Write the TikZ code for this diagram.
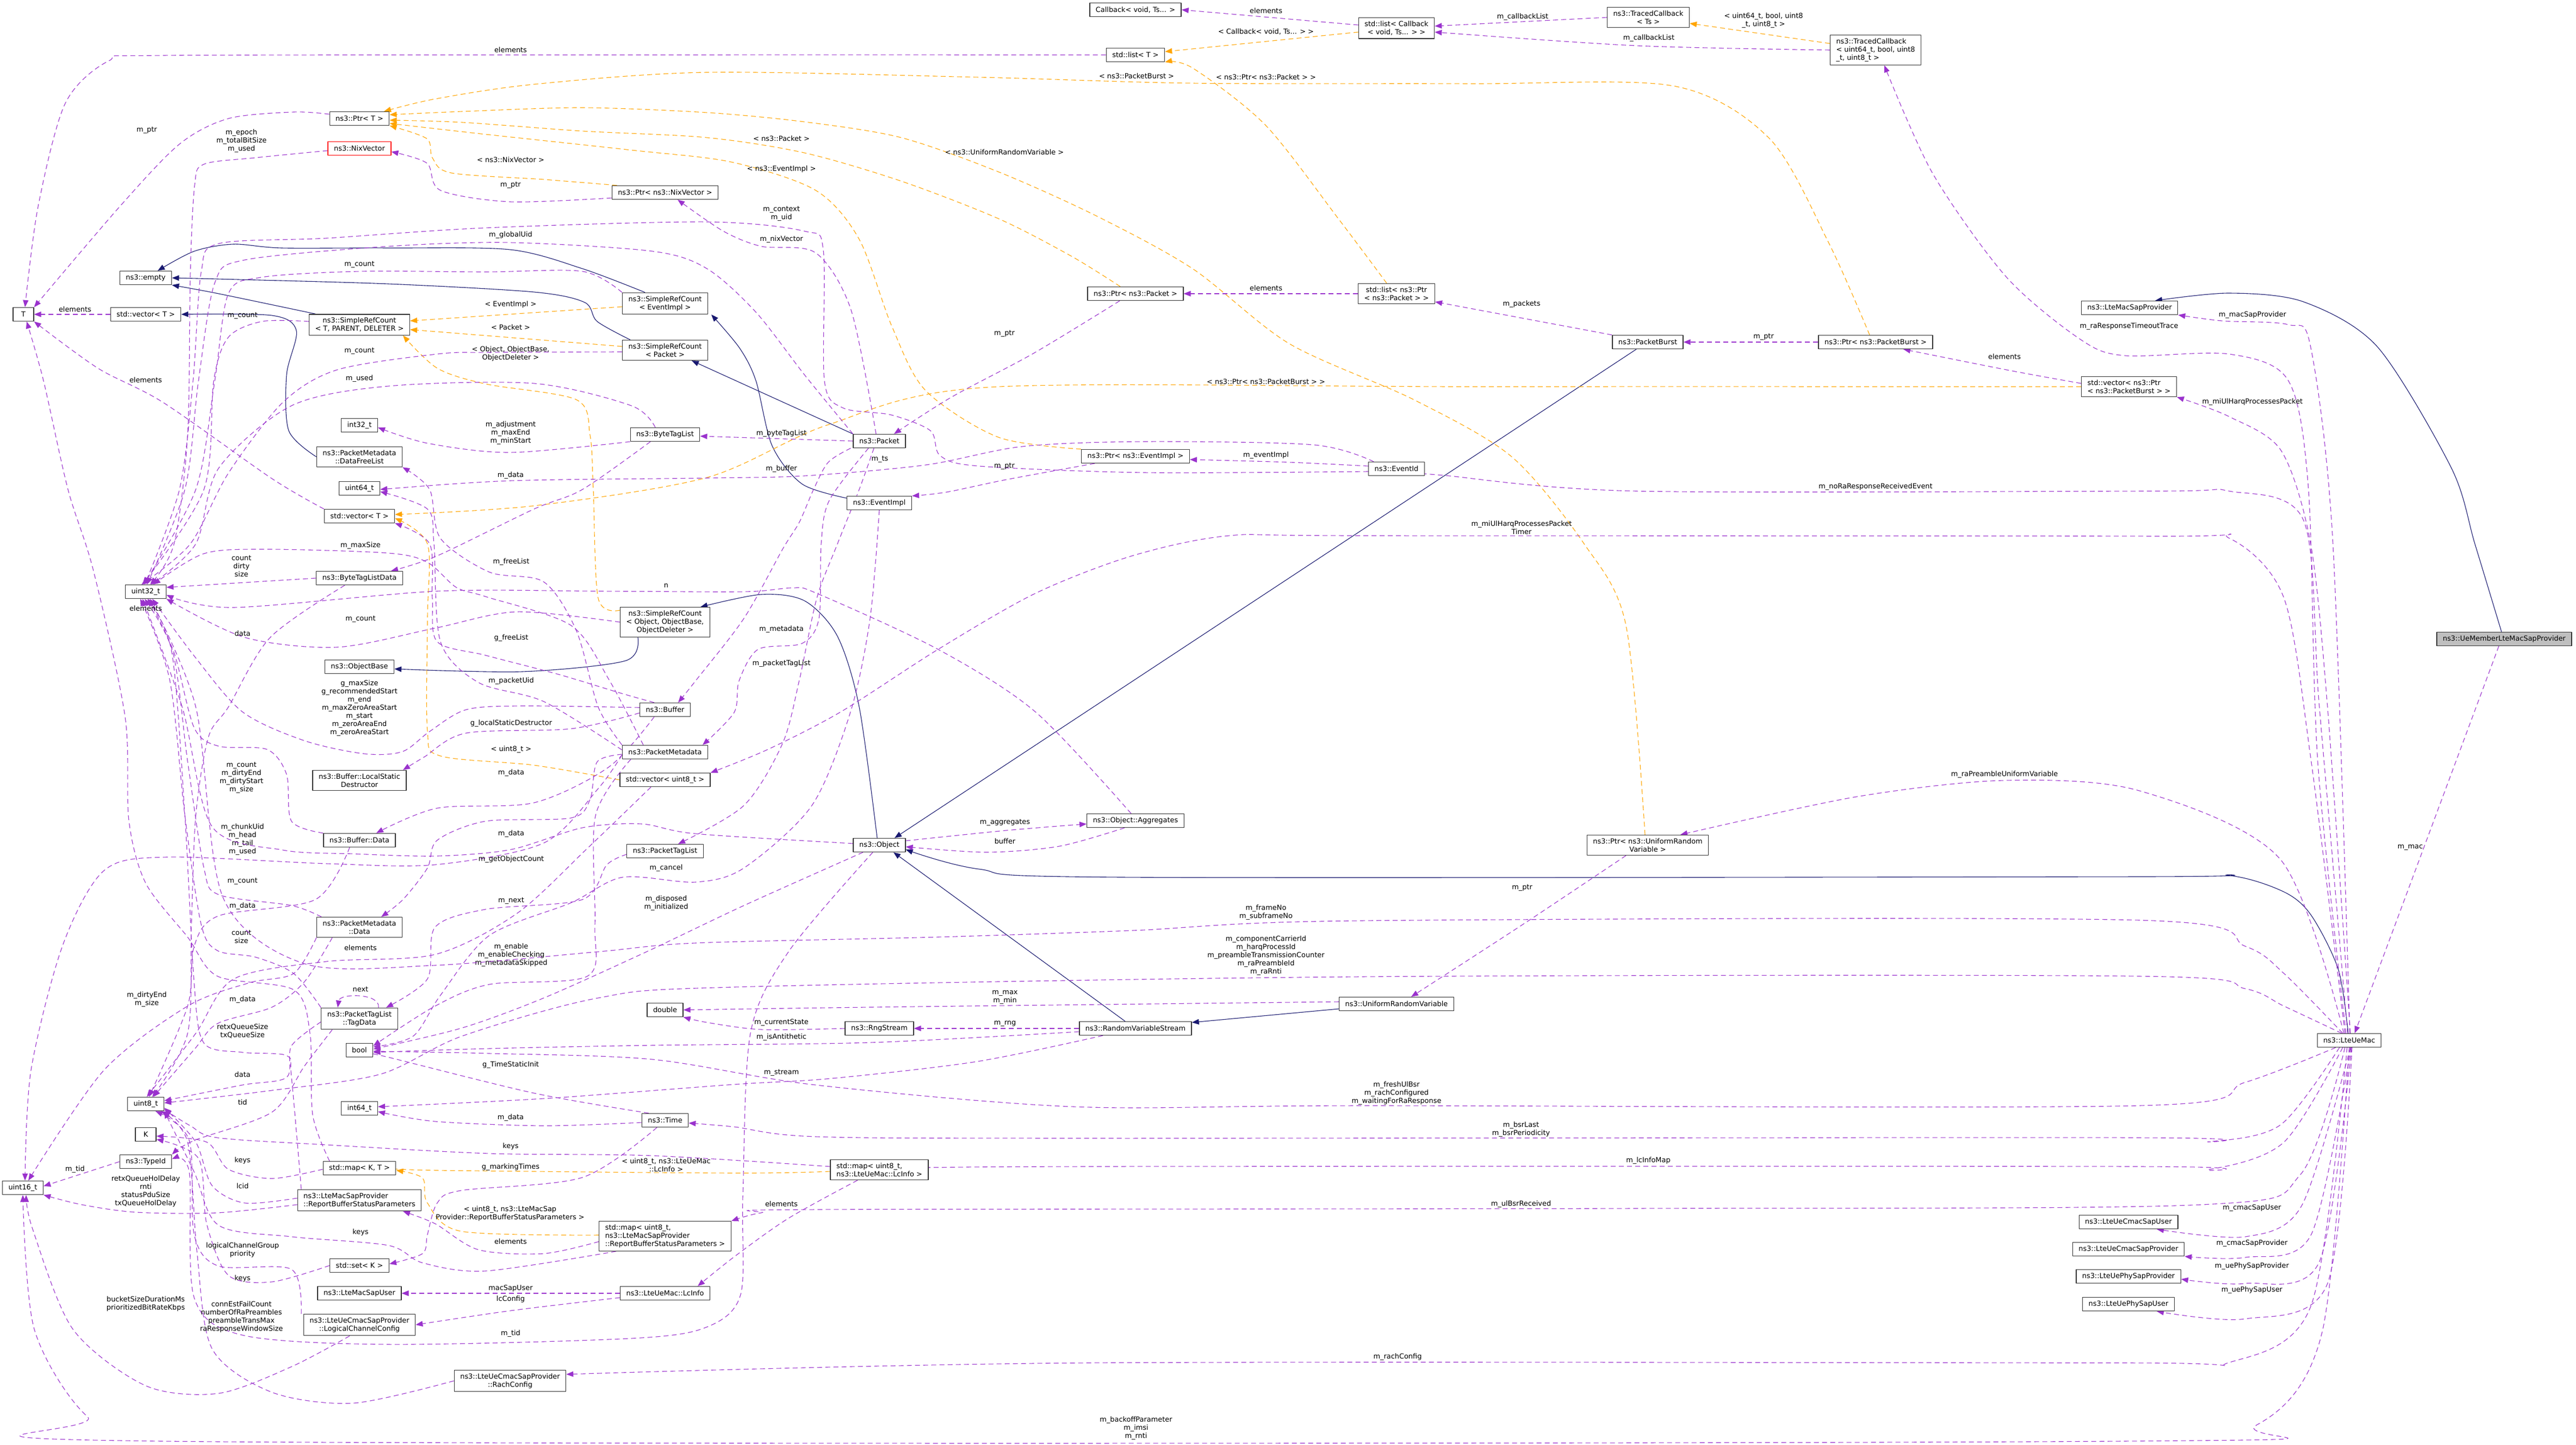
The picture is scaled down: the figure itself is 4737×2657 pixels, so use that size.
\documentclass[tikz,border=0pt]{standalone}
\usepackage{fontspec}
\setmainfont{DejaVu Sans}
\usetikzlibrary{arrows.meta}
\pgfdeclarelayer{back}
\pgfdeclarelayer{edges}
\pgfsetlayers{back,edges,main}
\definecolor{dxpurple}{HTML}{9A32CD}
\definecolor{dxorange}{HTML}{FFA500}
\definecolor{dxnavy}{HTML}{191970}
\definecolor{dxgray}{HTML}{BFBFBF}
\newcommand{\dxfont}{\fontsize{12.9}{15}\selectfont}
\begin{document}
\begin{tikzpicture}[x=1pt,y=-1pt,>={Triangle[length=13pt,width=10pt]},line join=round,
  cls/.style={draw=black!80,line width=1.3pt,fill=white,font=\dxfont,align=center,inner xsep=11pt,inner ysep=6pt,minimum height=25pt,minimum width=38pt},
  clsl/.style={cls,align=left},
  lbl/.style={font=\dxfont,align=center,inner sep=0pt},
  use/.style={->,draw=dxpurple,line width=1.1pt,dash pattern=on 9pt off 6pt},
  tmpl/.style={->,draw=dxorange,line width=1.1pt,dash pattern=on 9pt off 6pt},
  inh/.style={->,draw=dxnavy,line width=1.1pt}]
\begin{pgfonlayer}{back}
\fill[white] (0,0) rectangle (4737,2657);
\end{pgfonlayer}
\useasboundingbox (0,0) rectangle (4737,2657);
% classes
\node[cls] (cbvoid) at (2088,18) {Callback< void, Ts... >};
\node[cls] (listcb) at (2568,52) {std::list< Callback\\< void, Ts... > >};
\node[cls] (tracedts) at (3031,32) {ns3::TracedCallback\\< Ts >};
\node[clsl] (traceduint) at (3449,92) {ns3::TracedCallback\\< uint64\_t, bool, uint8\\\_t, uint8\_t >};
\node[cls] (listT) at (2088,101) {std::list< T >};
\node[cls] (ptrT) at (661,218) {ns3::Ptr< T >};
\node[cls,draw=red] (nixvec) at (661,273) {ns3::NixVector};
\node[cls] (ptrnix) at (1223,354) {ns3::Ptr< ns3::NixVector >};
\node[cls] (empty) at (268,511) {ns3::empty};
\node[cls] (T) at (43,578) {T};
\node[cls] (vecT) at (268,578) {std::vector< T >};
\node[cls] (srcT) at (661,597) {ns3::SimpleRefCount\\< T, PARENT, DELETER >};
\node[cls] (srcev) at (1223,558) {ns3::SimpleRefCount\\< EventImpl >};
\node[cls] (srcpkt) at (1223,644) {ns3::SimpleRefCount\\< Packet >};
\node[cls] (ptrpkt) at (2088,540) {ns3::Ptr< ns3::Packet >};
\node[cls] (listptrpkt) at (2568,540) {std::list< ns3::Ptr\\< ns3::Packet > >};
\node[cls] (pktburst) at (3030,629) {ns3::PacketBurst};
\node[cls] (ptrpb) at (3449,629) {ns3::Ptr< ns3::PacketBurst >};
\node[cls] (ltemacsapprov) at (3916,566) {ns3::LteMacSapProvider};
\node[clsl] (vecptrpb) at (3915,711) {std::vector< ns3::Ptr\\< ns3::PacketBurst > >};
\node[cls] (int32) at (661,782) {int32\_t};
\node[cls] (bytetaglist) at (1223,799) {ns3::ByteTagList};
\node[cls] (packet) at (1617,811) {ns3::Packet};
\node[cls] (ptrev) at (2088,839) {ns3::Ptr< ns3::EventImpl >};
\node[cls] (eventid) at (2568,862) {ns3::EventId};
\node[cls] (freelist) at (661,840) {ns3::PacketMetadata\\::DataFreeList};
\node[cls] (uint64) at (661,898) {uint64\_t};
\node[cls] (eventimpl) at (1617,925) {ns3::EventImpl};
\node[cls] (vecT2) at (661,949) {std::vector< T >};
\node[cls] (btldata) at (661,1063) {ns3::ByteTagListData};
\node[cls] (uint32) at (268,1088) {uint32\_t};
\node[cls] (srcobj) at (1223,1144) {ns3::SimpleRefCount\\< Object, ObjectBase,\\ObjectDeleter >};
\node[cls] (objbase) at (661,1226) {ns3::ObjectBase};
\node[cls] (buffer) at (1223,1305) {ns3::Buffer};
\node[cls] (pktmeta) at (1223,1383) {ns3::PacketMetadata};
\node[cls] (lsd) at (661,1435) {ns3::Buffer::LocalStatic\\Destructor};
\node[cls] (vecu8) at (1223,1434) {std::vector< uint8\_t >};
\node[cls] (aggregates) at (2088,1509) {ns3::Object::Aggregates};
\node[cls] (object) at (1617,1554) {ns3::Object};
\node[cls] (bufdata) at (661,1545) {ns3::Buffer::Data};
\node[cls] (pkttaglist) at (1223,1565) {ns3::PacketTagList};
\node[cls] (ptrurv) at (3030,1554) {ns3::Ptr< ns3::UniformRandom\\Variable >};
\node[cls] (pmdata) at (661,1705) {ns3::PacketMetadata\\::Data};
\node[cls,fill=dxgray] (uemember) at (4605,1175) {ns3::UeMemberLteMacSapProvider};
\node[cls] (urv) at (2568,1846) {ns3::UniformRandomVariable};
\node[cls] (double) at (1223,1857) {double};
\node[cls] (rngstream) at (1617,1891) {ns3::RngStream};
\node[cls] (rvs) at (2088,1891) {ns3::RandomVariableStream};
\node[cls] (tagdata) at (661,1873) {ns3::PacketTagList\\::TagData};
\node[cls] (bool) at (661,1931) {bool};
\node[cls] (ltemac) at (4320,1913) {ns3::LteUeMac};
\node[cls] (uint8) at (268,2030) {uint8\_t};
\node[cls] (int64) at (661,2038) {int64\_t};
\node[cls] (time) at (1223,2060) {ns3::Time};
\node[cls] (K) at (268,2086) {K};
\node[cls] (typeid) at (268,2136) {ns3::TypeId};
\node[cls] (mapKT) at (661,2148) {std::map< K, T >};
\node[clsl] (maplc) at (1617,2151) {std::map< uint8\_t,\\ ns3::LteUeMac::LcInfo >};
\node[cls] (uint16) at (42,2184) {uint16\_t};
\node[clsl] (rbsp) at (661,2207) {ns3::LteMacSapProvider\\::ReportBufferStatusParameters};
\node[clsl] (maprbsp) at (1223,2273) {std::map< uint8\_t,\\ ns3::LteMacSapProvider\\::ReportBufferStatusParameters >};
\node[cls] (setK) at (661,2327) {std::set< K >};
\node[cls] (macsapuser) at (661,2378) {ns3::LteMacSapUser};
\node[cls] (lcinfo) at (1223,2378) {ns3::LteUeMac::LcInfo};
\node[cls] (lcconfig) at (661,2436) {ns3::LteUeCmacSapProvider\\::LogicalChannelConfig};
\node[cls] (rachconfig) at (938,2539) {ns3::LteUeCmacSapProvider\\::RachConfig};
\node[cls] (cmacuser) at (3914,2247) {ns3::LteUeCmacSapUser};
\node[cls] (cmacprov) at (3914,2297) {ns3::LteUeCmacSapProvider};
\node[cls] (phyprov) at (3914,2347) {ns3::LteUePhySapProvider};
\node[cls] (phyuser) at (3914,2398) {ns3::LteUePhySapUser};
\begin{pgfonlayer}{edges}
% inheritance
\draw[inh] plot[smooth] coordinates {([xshift=-37pt]srcev.north) (1071,494) (938,459) (714,456) (518,456) (429,449) (357,462) ([xshift=22pt]empty.north)};
\draw[inh] plot[smooth] coordinates {([xshift=-64pt]srcpkt.north) (1098,591) (1075,556) (982,537) (714,522) (400,513) (empty.east)};
\draw[inh] plot[smooth] coordinates {([xshift=-81pt]srcT.north) (402,540) (empty.south east)};
\draw[inh] plot[smooth] coordinates {(freelist.west) (531,792) (527,689) (545,608) (500,580) (vecT.east)};
\draw[inh] (packet.north west) -- ([xshift=49pt]srcpkt.south);
\draw[inh] plot[smooth] coordinates {([yshift=9pt]eventimpl.west) (1475,890) (1420,820) (1390,700) (1360,640) ([xshift=85pt]srcev.south)};
\draw[inh] plot[smooth] coordinates {([xshift=-4pt]object.north) (1580,1300) (1540,1170) (1480,1105) (1400,1093) ([xshift=65pt]srcobj.north)};
\draw[inh] plot[smooth] coordinates {([xshift=-50pt]srcobj.south) (1150,1215) (960,1235) ([yshift=-4pt]objbase.east)};
\draw[inh] ([xshift=-21pt]pktburst.south) -- ([xshift=28pt]object.north);
\draw[inh] plot[smooth] coordinates {([xshift=-2pt]ltemac.north) (4300,1783) (4250,1683) (4200,1640) (4100,1610) (3934,1612) (2064,1613) (1800,1598) ([yshift=-8pt]object.east)};
\draw[inh] ([xshift=-19pt]rvs.north) -- ([xshift=26pt]object.south);
\draw[inh] ([yshift=-9pt]urv.west) -- ([yshift=11pt]rvs.east);
\draw[inh] plot[smooth] coordinates {([xshift=-5pt]uemember.north) (4551,1000) (4508,861) (4372,638) (4236,555) (4099,539) ([xshift=47pt]ltemacsapprov.north)};
% template instances
\draw[tmpl] ([yshift=-7pt]listcb.west) -- ([yshift=6pt]listT.east) node[lbl] at (2328,58) {< Callback< void, Ts... > >};
\draw[tmpl] ([yshift=12pt]traceduint.west) -- ([yshift=-11pt]tracedts.east) node[lbl] at (3243,38) {< uint64\_t, bool, uint8\\\_t, uint8\_t >};
\draw[tmpl] plot[smooth] coordinates {([xshift=-11pt]ptrpb.north) (3363,447) (3254,255) (3077,158) (2700,154) (2193,153) (1800,142) (1300,133) (982,155) (800,182) ([xshift=45pt]ptrT.north)} node[lbl] at (2090,140) {< ns3::PacketBurst >};
\draw[tmpl] plot[smooth] coordinates {([xshift=-18pt]listptrpkt.north) (2461,402) (2327,230) (2193,125) (listT.south east)} node[lbl] at (2328,142) {< ns3::Ptr< ns3::Packet > >};
\draw[tmpl] plot[smooth] coordinates {([xshift=-28pt]ptrpkt.north) (1970,471) (1836,402) (1657,333) (1479,281) (1300,253) (1071,241) (850,225) ([yshift=-3pt]ptrT.east)} node[lbl] at (1437,255) {< ns3::Packet >};
\draw[tmpl] plot[smooth] coordinates {([xshift=-5pt]ptrurv.north) (2990,1150) (2913,1000) (2780,840) (2600,735) (2371,632) (2193,494) (2014,396) (1836,316) (1657,253) (1479,224) (1300,207) (1071,198) (850,205) ([yshift=7pt]ptrT.east)} node[lbl] at (1847,280) {< ns3::UniformRandomVariable >};
\draw[tmpl] plot[smooth] coordinates {(ptrev.north west) (1836,804) (1702,718) (1640,600) (1580,440) (1500,350) (1345,298) (1161,276) (893,247) ([yshift=-9pt]ptrT.east)} node[lbl] at (1437,311) {< ns3::EventImpl >};
\draw[tmpl] plot[smooth] coordinates {([xshift=10pt]ptrnix.north west) (1000,330) (830,318) (795,290) (785,255) (ptrT.south east)} node[lbl] at (939,294) {< ns3::NixVector >};
\draw[tmpl] ([yshift=-6pt]srcev.west) -- ([yshift=7pt]srcT.east) node[lbl] at (939,560) {< EventImpl >};
\draw[tmpl] ([yshift=7pt]srcpkt.west) -- ([yshift=-9pt]srcT.east) node[lbl] at (939,602) {< Packet >};
\draw[tmpl] plot[smooth] coordinates {([yshift=22pt]srcobj.west) (1100,1100) (1091,900) (1085,800) (1060,735) (893,706) (804,677) ([xshift=80pt]srcT.south)} node[lbl] at (939,650) {< Object, ObjectBase,\\ObjectDeleter >};
\draw[tmpl] plot[smooth] coordinates {(vecptrpb.west) (2700,711) (1818,712) (1523,781) (1300,878) (982,930) ([yshift=3pt]vecT2.east)} node[lbl] at (2328,702) {< ns3::Ptr< ns3::PacketBurst > >};
\draw[tmpl] plot[smooth] coordinates {(vecu8.west) (982,1407) (810,1390) (786,1344) (786,1137) (786,1000) ([yshift=-4pt]vecT2.east)} node[lbl] at (940,1378) {< uint8\_t >};
\draw[tmpl] plot[smooth] coordinates {([yshift=-3pt]maplc.west) (1350,2157) (804,2152) (mapKT.east)} node[lbl] at (1225,2142) {< uint8\_t, ns3::LteUeMac\\::LcInfo >};
\draw[tmpl] plot[smooth] coordinates {([yshift=2pt]maprbsp.west) (848,2264) (786,2212) (777,2166) ([yshift=-4pt]mapKT.east)} node[lbl] at (938,2231) {< uint8\_t, ns3::LteMacSap\\Provider::ReportBufferStatusParameters >};
% members
\draw[use] ([yshift=6pt]listcb.west) -- (cbvoid.east) node[lbl] at (2328,20) {elements};
\draw[use] (tracedts.west) -- ([yshift=4pt]listcb.east) node[lbl] at (2800,31) {m\_callbackList};
\draw[use] plot[smooth] coordinates {(traceduint.west) (3009,84) ([yshift=-7pt]listcb.east)} node[lbl] at (3032,70) {m\_callbackList};
\draw[use] plot[smooth] coordinates {(listT.west) (1200,101) (300,102) (200,112) (120,190) (70,380) ([xshift=3pt]T.north)} node[lbl] at (939,92) {elements};
\draw[use] plot[smooth] coordinates {([xshift=-6pt]ltemac.north) (4262,1400) (4245,900) (4208,700) (4099,651) (3908,654) (3827,625) (3690,510) (3554,319) ([xshift=16pt]traceduint.south)} node[lbl] at (3915,600) {m\_raResponseTimeoutTrace};
\draw[use] plot[smooth] coordinates {([yshift=8pt]ptrT.west) (540,206) (420,218) (330,265) (220,380) (T.north east)} node[lbl] at (270,239) {m\_ptr};
\draw[use] plot[smooth] coordinates {([yshift=-10pt]ptrnix.west) (938,371) (810,350) (785,300) ([yshift=-6pt]nixvec.east)} node[lbl] at (939,340) {m\_ptr};
\draw[use] plot[smooth] coordinates {([yshift=-4pt]nixvec.west) (470,290) (375,302) (358,340) (350,500) (345,800) (320,1000) ([xshift=8pt]uint32.north)} node[lbl] at (444,259) {m\_epoch\\m\_totalBitSize\\m\_used};
\draw[use] plot[smooth] coordinates {([xshift=-6pt]packet.north) (1565,570) (1500,465) (1400,453) (1330,425) ([xshift=23pt]ptrnix.south)} node[lbl] at (1437,440) {m\_nixVector};
\draw[use] plot[smooth] coordinates {(packet.north west) (1480,690) (1390,574) (1300,494) (1200,462) (938,446) (714,453) (450,478) (395,520) (365,700) (340,900) ([xshift=2pt]uint32.north)} node[lbl] at (939,432) {m\_globalUid};
\draw[use] plot[smooth] coordinates {([yshift=-5pt]eventid.west) (2104,869) (1800,857) (1729,838) (1711,792) (1639,763) (1550,750) (1516,700) (1514,460) (1479,425) (1300,408) (893,419) (600,438) (402,448) (370,500) (355,700) (330,900) ([xshift=-2pt]uint32.north)} node[lbl] at (1437,393) {m\_context\\m\_uid};
\draw[use] plot[smooth] coordinates {(srcev.north west) (1071,499) (893,500) (661,499) (480,510) (420,540) (395,700) (360,900) ([xshift=-4pt]uint32.north)} node[lbl] at (661,486) {m\_count};
\draw[use] plot[smooth] coordinates {([yshift=6pt]srcT.west) (482,591) (420,620) (393,700) (375,900) ([xshift=-6pt]uint32.north)} node[lbl] at (446,580) {m\_count};
\draw[use] plot[smooth] coordinates {([yshift=-3pt]srcpkt.west) (900,648) (804,651) (620,680) (520,740) (420,870) (350,1000) ([xshift=-8pt]uint32.north)} node[lbl] at (661,645) {m\_count};
\draw[use] (vecT.west) -- (T.east) node[lbl] at (138,569) {elements};
\draw[use] plot[smooth] coordinates {(vecT2.north west) (500,880) (300,740) (180,677) (T.south east)} node[lbl] at (268,699) {elements};
\draw[use] plot[smooth] coordinates {([xshift=-18pt]bytetaglist.north) (1161,746) (982,705) (714,710) (536,746) (402,861) (360,1000) ([xshift=10pt]uint32.north)} node[lbl] at (661,696) {m\_used};
\draw[use] plot[smooth] coordinates {(bytetaglist.south west) (938,832) (786,815) ([yshift=-4pt]int32.east)} node[lbl] at (939,796) {m\_adjustment\\m\_maxEnd\\m\_minStart};
\draw[use] plot[smooth] coordinates {([xshift=-27pt]bytetaglist.south) (1071,900) (982,936) (804,1022) ([xshift=58pt]btldata.north)} node[lbl] at (939,874) {m\_data};
\draw[use] plot[smooth] coordinates {([xshift=10pt]eventid.north west) (2416,818) (2104,812) (1880,821) (1702,855) (1479,875) (1300,879) (938,884) ([yshift=-2pt]uint64.east)} node[lbl] at (1618,844) {m\_ts};
\draw[use] plot[smooth] coordinates {([yshift=5pt]eventid.west) (2371,850) ([yshift=-6pt]ptrev.east)} node[lbl] at (2328,837) {m\_eventImpl};
\draw[use] plot[smooth] coordinates {([xshift=-75pt]ptrev.south) (1850,882) (1740,905) (eventimpl.north east)} node[lbl] at (1847,857) {m\_ptr};
\draw[use] plot[smooth] coordinates {([xshift=-29pt]ptrpkt.south) (1900,650) (1750,730) ([xshift=27pt]packet.north)} node[lbl] at (1847,613) {m\_ptr};
\draw[use] (listptrpkt.west) -- (ptrpkt.east) node[lbl] at (2328,530) {elements};
\draw[use] (pktburst.north west) -- ([yshift=-15pt]listptrpkt.east) node[lbl] at (2798,559) {m\_packets};
\draw[use] (ptrpb.west) -- (pktburst.east) node[lbl] at (3243,619) {m\_ptr};
\draw[use] plot[smooth] coordinates {([yshift=6pt]vecptrpb.west) (3700,682) ([xshift=51pt]ptrpb.south)} node[lbl] at (3686,656) {elements};
\draw[use] plot[smooth] coordinates {([xshift=1pt]ltemac.north) (4290,1000) (4249,638) (4208,597) (4086,590) (ltemacsapprov.south east)} node[lbl] at (4142,579) {m\_macSapProvider};
\draw[use] plot[smooth] coordinates {([xshift=2pt]ltemac.north) (4280,1300) (4249,1000) (4195,829) (4099,766) (vecptrpb.south east)} node[lbl] at (4142,739) {m\_miUlHarqProcessesPacket};
\draw[use] plot[smooth] coordinates {([xshift=-3pt]ltemac.north) (4265,1300) (4236,957) (4099,903) (3963,903) (3009,903) (2654,874) ([yshift=-9pt]eventid.east)} node[lbl] at (3449,895) {m\_noRaResponseReceivedEvent};
\draw[use] plot[smooth] coordinates {([xshift=-8pt]ltemac.north) (4250,1400) (4200,1100) (4100,990) (3963,986) (2500,985) (2260,985) (2082,1022) (1904,1091) (1725,1194) (1546,1309) (1412,1378) (vecu8.north east)} node[lbl] at (2798,970) {m\_miUlHarqProcessesPacket\\Timer};
\draw[use] plot[smooth] coordinates {([xshift=-10pt]ltemac.north) (4194,1581) (3934,1454) (3686,1435) (3414,1465) ([xshift=60pt]ptrurv.north)} node[lbl] at (3686,1424) {m\_raPreambleUniformVariable};
\draw[use] plot[smooth] coordinates {([xshift=-40pt]ptrurv.south) (2800,1700) ([xshift=27pt]urv.north)} node[lbl] at (2799,1632) {m\_ptr};
\draw[use] (packet.west) -- ([yshift=-3pt]bytetaglist.east) node[lbl] at (1437,797) {m\_byteTagList};
\draw[use] plot[smooth] coordinates {([xshift=-4pt]packet.south west) (1523,850) (1496,900) (1470,960) (1439,1010) (1368,1137) (1279,1252) ([xshift=24pt]buffer.north)} node[lbl] at (1437,862) {m\_buffer};
\draw[use] plot[smooth] coordinates {([xshift=-20pt]packet.south) (1525,920) (1510,1000) (1506,1137) (1475,1183) (1394,1194) (1359,1252) (1350,1310) ([xshift=69pt]pktmeta.north)} node[lbl] at (1437,1157) {m\_metadata};
\draw[use] plot[smooth] coordinates {([xshift=-10pt]packet.south) (1580,900) (1540,1000) (1502,1100) (1470,1250) (1439,1367) (1368,1481) ([xshift=24pt]pkttaglist.north)} node[lbl] at (1437,1220) {m\_packetTagList};
\draw[use] plot[smooth] coordinates {(eventimpl.south) (1600,1137) (1564,1309) (1493,1481) (1368,1596) (1279,1622) (1145,1613) (1050,1660) (900,1720) (810,1830) (760,1905) ([yshift=6pt]bool.east)} node[lbl] at (1225,1596) {m\_cancel};
\draw[use] plot[smooth] coordinates {([xshift=-30pt]object.south) (1368,1665) (1189,1750) (1000,1835) (850,1890) ([yshift=2pt]bool.east)} node[lbl] at (1225,1661) {m\_disposed\\m\_initialized};
\draw[use] plot[smooth] coordinates {([xshift=-12pt]object.south) (1450,1750) (1380,1900) (1366,2200) (1362,2380) (1300,2440) (1161,2461) (714,2472) (446,2455) (357,2386) (348,2155) ([yshift=5pt]typeid.east)} node[lbl] at (939,2452) {m\_tid};
\draw[use] plot[smooth] coordinates {([yshift=8pt]object.east) (1850,1527) ([yshift=-6pt]aggregates.west)} node[lbl] at (1848,1512) {m\_aggregates};
\draw[use] plot[smooth] coordinates {([xshift=-20pt]aggregates.south) (1948,1556) (1814,1567) ([yshift=-3pt]object.east)} node[lbl] at (1848,1547) {buffer};
\draw[use] plot[smooth] coordinates {([xshift=-8pt]aggregates.north) (1904,1309) (1725,1194) (1502,1091) (1457,1081) (1368,1088) (1100,1087) (804,1087) (429,1117) ([yshift=-6pt]uint32.east)} node[lbl] at (1225,1077) {n};
\draw[use] plot[smooth] coordinates {(srcobj.west) (950,1125) (800,1155) (620,1190) (450,1172) (uint32.south east)} node[lbl] at (663,1138) {m\_count};
\draw[use] plot[smooth] coordinates {([xshift=-40pt]pktmeta.north) (1120,1250) (1050,1150) (893,1097) (839,1080) (786,1034) (714,1017) (491,1010) (375,1018) ([xshift=14pt]uint32.north)} node[lbl] at (663,1003) {m\_maxSize};
\draw[use] (btldata.west) -- ([yshift=8pt]uint32.east) node[lbl] at (444,1041) {count\\dirty\\size};
\draw[use] plot[smooth] coordinates {([xshift=-27pt]btldata.south) (497,1172) (420,1300) (383,1356) (360,1500) (352,1700) (345,1900) ([xshift=12pt]uint8.north)} node[lbl] at (446,1165) {data};
\draw[use] plot[smooth] coordinates {(pktmeta.north west) (1100,1300) (1060,1160) (1000,1070) (900,1052) (810,990) (790,900) (freelist.south east)} node[lbl] at (940,1033) {m\_freeList};
\draw[use] plot[smooth] coordinates {([yshift=4pt]pktmeta.west) (1000,1290) (880,1255) (810,1180) (798,1000) (786,936) ([yshift=-6pt]uint64.east)} node[lbl] at (940,1252) {m\_packetUid};
\draw[use] plot[smooth] coordinates {([xshift=-20pt]buffer.north) (1143,1275) (1027,1240) (893,1205) (804,1180) (795,1100) (790,1000) (vecT2.south east)} node[lbl] at (940,1173) {g\_freeList};
\draw[use] plot[smooth] coordinates {([yshift=4pt]buffer.west) (960,1298) (857,1305) (790,1345) (740,1382) (670,1386) (560,1362) (446,1309) (357,1206) ([xshift=12pt]uint32.south)} node[lbl] at (661,1302) {g\_maxSize\\g\_recommendedStart\\m\_end\\m\_maxZeroAreaStart\\m\_start\\m\_zeroAreaEnd\\m\_zeroAreaStart};
\draw[use] plot[smooth] coordinates {([yshift=-6pt]buffer.west) (1050,1340) (857,1348) (780,1392) ([xshift=80pt]lsd.north)} node[lbl] at (940,1330) {g\_localStaticDestructor};
\draw[use] plot[smooth] coordinates {([xshift=-20pt]buffer.south) (1120,1410) (982,1476) (804,1486) ([xshift=31pt]bufdata.north)} node[lbl] at (940,1421) {m\_data};
\draw[use] plot[smooth] coordinates {([yshift=-4pt]pktmeta.west) (1098,1401) (1085,1470) (1050,1504) (893,1510) (804,1545) (786,1596) (741,1654) ([xshift=40pt]pmdata.north)} node[lbl] at (940,1533) {m\_data};
\draw[use] plot[smooth] coordinates {(bufdata.north west) (536,1510) (527,1424) (491,1378) (402,1372) (357,1338) (320,1200) ([xshift=5pt]uint32.south)} node[lbl] at (444,1430) {m\_count\\m\_dirtyEnd\\m\_dirtyStart\\m\_size};
\draw[use] plot[smooth] coordinates {([yshift=-5pt]pktmeta.west) (1100,1450) (1000,1550) (800,1590) (600,1588) (306,1576) (191,1601) (115,1739) (57,1968) ([xshift=4pt]uint16.north)} node[lbl] at (446,1544) {m\_chunkUid\\m\_head\\m\_tail\\m\_used};
\draw[use] plot[smooth] coordinates {([yshift=3pt]object.west) (1279,1533) (1180,1515) (1071,1522) (940,1562) (804,1574) (650,1570) (520,1563) (390,1520) (335,1300) ([xshift=-6pt]uint32.south)} node[lbl] at (940,1580) {m\_getObjectCount};
\draw[use] plot[smooth] coordinates {([xshift=-70pt]pmdata.north) (536,1665) (402,1645) (375,1596) (345,1400) (318,1200) ([xshift=-2pt]uint32.south)} node[lbl] at (446,1620) {m\_count};
\draw[use] plot[smooth] coordinates {([xshift=-18pt]bufdata.south) (580,1654) (402,1684) (357,1740) (345,1850) ([xshift=6pt]uint8.north)} node[lbl] at (446,1666) {m\_data};
\draw[use] plot[smooth] coordinates {(tagdata.north west) (540,1790) (470,1760) (400,1748) (370,1700) (340,1500) (312,1250) ([xshift=-10pt]uint32.south)} node[lbl] at (444,1723) {count\\size};
\draw[use] plot[smooth] coordinates {([xshift=-26pt]vecu8.south) (1080,1560) (950,1680) (800,1755) (600,1768) (430,1800) (360,1900) ([xshift=2pt]uint8.north)} node[lbl] at (663,1743) {elements};
\draw[use] plot[smooth] coordinates {([xshift=-63pt]pktmeta.south) (1095,1500) (1094,1700) (1080,1795) (900,1810) (800,1850) ([yshift=8pt]bool.east)} node[lbl] at (940,1756) {m\_enable\\m\_enableChecking\\m\_metadataSkipped};
\draw[use] plot[smooth] coordinates {(pmdata.south west) (540,1790) (459,1807) (345,1850) (191,1968) ([xshift=10pt]uint16.north)} node[lbl] at (270,1838) {m\_dirtyEnd\\m\_size};
\draw[use] plot[smooth] coordinates {([xshift=-50pt]pmdata.south) (560,1805) (500,1852) (400,1882) (357,1930) ([xshift=14pt]uint8.north)} node[lbl] at (446,1838) {m\_data};
\draw[use] plot[smooth] coordinates {([yshift=-6pt]tagdata.west) (536,1923) (527,1981) (446,1995) ([yshift=6pt]uint8.east)} node[lbl] at (446,1976) {data};
\draw[use] plot[smooth] coordinates {([xshift=-50pt]tagdata.south) (560,1960) (500,2045) (357,2097) (typeid.north east)} node[lbl] at (446,2027) {tid};
\draw[use] ([xshift=35pt]tagdata.north) .. controls (700,1826) and (625,1826) .. ([xshift=-40pt]tagdata.north) node[lbl] at (663,1819) {next};
\draw[use] plot[smooth] coordinates {([yshift=-6pt]pkttaglist.west) (1116,1590) (1071,1654) (893,1672) (800,1705) (786,1800) ([xshift=49pt]tagdata.north)} node[lbl] at (940,1656) {m\_next};
\draw[use] (typeid.west) -- ([yshift=3pt]uint16.east) node[lbl] at (138,2150) {m\_tid};
\draw[use] plot[smooth] coordinates {([xshift=-107pt]rbsp.north) (536,1981) (527,1941) (446,1935) (375,1918) (357,1808) (340,1500) (316,1200) ([xshift=3pt]uint32.south)} node[lbl] at (446,1896) {retxQueueSize\\txQueueSize};
\draw[use] plot[smooth] coordinates {([yshift=-8pt]rbsp.west) (400,2230) (250,2229) (150,2215) (uint16.south east)} node[lbl] at (268,2190) {retxQueueHolDelay\\rnti\\statusPduSize\\txQueueHolDelay};
\draw[use] plot[smooth] coordinates {([yshift=4pt]rbsp.west) (450,2212) (390,2180) (360,2100) ([yshift=-7pt]uint8.east)} node[lbl] at (446,2181) {lcid};
\draw[use] plot[smooth] coordinates {([yshift=-2pt]mapKT.west) (500,2167) (420,2150) (380,2100) ([yshift=-3pt]K.east)} node[lbl] at (446,2134) {keys};
\draw[use] plot[smooth] coordinates {(setK.west) (500,2357) (420,2345) (380,2250) (365,2130) ([yshift=-9pt]K.east)} node[lbl] at (446,2351) {keys};
\draw[use] plot[smooth] coordinates {([xshift=-90pt]maprbsp.south) (893,2337) (777,2322) (714,2290) (536,2274) (402,2253) (357,2155) (uint8.south east)} node[lbl] at (663,2266) {keys};
\draw[use] plot[smooth] coordinates {([yshift=6pt]maplc.west) (1200,2125) (900,2121) (600,2105) (400,2092) (350,2070) ([yshift=-10pt]uint8.east)} node[lbl] at (939,2108) {keys};
\draw[use] plot[smooth] coordinates {([xshift=-107pt]lcconfig.north) (536,2334) (402,2328) (357,2270) (348,2097) ([xshift=18pt]uint8.south)} node[lbl] at (446,2298) {logicalChannelGroup\\priority};
\draw[use] plot[smooth] coordinates {([xshift=-18pt]lcconfig.south) (536,2513) (402,2562) (268,2548) (134,2444) (60,2260) ([xshift=6pt]uint16.south)} node[lbl] at (268,2397) {bucketSizeDurationMs\\prioritizedBitRateKbps};
\draw[use] plot[smooth] coordinates {(rachconfig.west) (650,2580) (500,2560) (390,2480) (362,2300) (345,2100) ([xshift=28pt]uint8.south)} node[lbl] at (444,2421) {connEstFailCount\\numberOfRaPreambles\\preambleTransMax\\raResponseWindowSize};
\draw[use] (lcinfo.west) -- (macsapuser.east) node[lbl] at (939,2369) {macSapUser};
\draw[use] plot[smooth] coordinates {([yshift=-8pt]lcinfo.west) (939,2410) (lcconfig.east)} node[lbl] at (939,2389) {lcConfig};
\draw[use] plot[smooth] coordinates {([yshift=-10pt]maprbsp.west) (1000,2305) (880,2298) (800,2250) ([xshift=80pt]rbsp.south)} node[lbl] at (939,2283) {elements};
\draw[use] plot[smooth] coordinates {([xshift=-40pt]maplc.south) (1450,2240) (1350,2311) ([xshift=60pt]lcinfo.north)} node[lbl] at (1437,2214) {elements};
\draw[use] plot[smooth] coordinates {([yshift=-4pt]time.west) (1000,2070) (800,2062) ([yshift=-6pt]int64.east)} node[lbl] at (939,2055) {m\_data};
\draw[use] plot[smooth] coordinates {([xshift=-30pt]time.north) (982,2010) (714,1944) ([yshift=-8pt]bool.east)} node[lbl] at (939,1958) {g\_TimeStaticInit};
\draw[use] plot[smooth] coordinates {([xshift=-15pt]time.south) (1071,2165) (848,2189) (804,2212) (786,2270) (777,2305) ([yshift=3pt]setK.east)} node[lbl] at (939,2146) {g\_markingTimes};
\draw[use] (rvs.west) -- (rngstream.east) node[lbl] at (1848,1882) {m\_rng};
\draw[use] plot[smooth] coordinates {(rngstream.west) (1400,1893) (1300,1880) (double.south east)} node[lbl] at (1437,1880) {m\_currentState};
\draw[use] plot[smooth] coordinates {([yshift=4pt]urv.west) (1600,1852) (double.east)} node[lbl] at (1848,1834) {m\_max\\m\_min};
\draw[use] plot[smooth] coordinates {([yshift=-6pt]rvs.west) (1600,1917) (1200,1922) (900,1928) ([yshift=-4pt]bool.east)} node[lbl] at (1437,1907) {m\_isAntithetic};
\draw[use] plot[smooth] coordinates {([xshift=-60pt]rvs.south) (1796,1952) (1529,1983) (1350,1994) (1000,2020) ([yshift=3pt]int64.east)} node[lbl] at (1437,1972) {m\_stream};
\draw[use] plot[smooth] coordinates {([xshift=-12pt]ltemac.north) (4200,1790) (4129,1740) (3934,1692) (2500,1693) (2082,1711) (1725,1723) (1279,1734) (1100,1750) (800,1775) (560,1772) (410,1650) (360,1300) ([xshift=8pt]uint32.south)} node[lbl] at (2328,1678) {m\_frameNo\\m\_subframeNo};
\draw[use] plot[smooth] coordinates {([xshift=-14pt]ltemac.north) (4200,1850) (4129,1818) (3934,1795) (2500,1796) (1350,1815) (1100,1835) (850,1905) (700,1975) (500,2005) ([yshift=2pt]uint8.east)} node[lbl] at (2328,1757) {m\_componentCarrierId\\m\_harqProcessId\\m\_preambleTransmissionCounter\\m\_raPreambleId\\m\_raRnti};
\draw[use] plot[smooth] coordinates {([xshift=-25pt]ltemac.south) (4129,1990) (3934,2033) (2500,2033) (1975,2035) (1500,1995) (1200,1948) (900,1937) ([yshift=-2pt]bool.east)} node[lbl] at (2568,2010) {m\_freshUlBsr\\m\_rachConfigured\\m\_waitingForRaResponse};
\draw[use] plot[smooth] coordinates {([xshift=-18pt]ltemac.south) (4194,2068) (4064,2099) (3934,2092) (2000,2093) (1500,2090) (1350,2072) ([yshift=-5pt]time.east)} node[lbl] at (2797,2077) {m\_bsrLast\\m\_bsrPeriodicity};
\draw[use] plot[smooth] coordinates {([xshift=-12pt]ltemac.south) (4200,2100) (4064,2150) (3934,2145) (2000,2145) ([yshift=3pt]maplc.east)} node[lbl] at (3031,2134) {m\_lcInfoMap};
\draw[use] plot[smooth] coordinates {([xshift=-8pt]ltemac.south) (4230,2160) (4050,2215) (3000,2222) (1500,2224) (1400,2230) (maprbsp.north east)} node[lbl] at (2797,2214) {m\_ulBsrReceived};
\draw[use] plot[smooth] coordinates {([xshift=-4pt]ltemac.south) (4250,2400) (4100,2505) (3900,2506) (2000,2506) ([yshift=12pt]rachconfig.east)} node[lbl] at (2570,2495) {m\_rachConfig};
\draw[use] plot[smooth] coordinates {(ltemac.south) (4270,2450) (4150,2620) (3900,2650) (300,2650) (161,2605) (63,2444) (uint16.south)} node[lbl] at (2089,2626) {m\_backoffParameter\\m\_imsi\\m\_rnti};
\draw[use] plot[smooth] coordinates {([xshift=2pt]ltemac.south) (4233,2216) (4129,2274) ([xshift=52pt]cmacuser.south)} node[lbl] at (4141,2221) {m\_cmacSapUser};
\draw[use] plot[smooth] coordinates {([xshift=3pt]ltemac.south) (4250,2270) (4129,2312) (cmacprov.south east)} node[lbl] at (4141,2286) {m\_cmacSapProvider};
\draw[use] plot[smooth] coordinates {([xshift=4pt]ltemac.south) (4265,2320) (4129,2360) ([yshift=-5pt]phyprov.east)} node[lbl] at (4141,2328) {m\_uePhySapProvider};
\draw[use] plot[smooth] coordinates {([xshift=5pt]ltemac.south) (4280,2360) (4129,2425) ([xshift=52pt]phyuser.south)} node[lbl] at (4141,2372) {m\_uePhySapUser};
\draw[use] ([xshift=-10pt]uemember.south) -- ([xshift=10pt]ltemac.north) node[lbl] at (4432,1558) {m\_mac};
\draw[use] plot[smooth] coordinates {([xshift=-55pt]mapKT.north) (575,2050) (570,1900) (540,1820) (400,1795) (345,1723) (268,1624) (237,1509) (230,1318) (172,1050) (125,900) (80,700) ([xshift=6pt]T.south)} node[lbl] at (268,1119) {elements};
\end{pgfonlayer}
\end{tikzpicture}
\end{document}
